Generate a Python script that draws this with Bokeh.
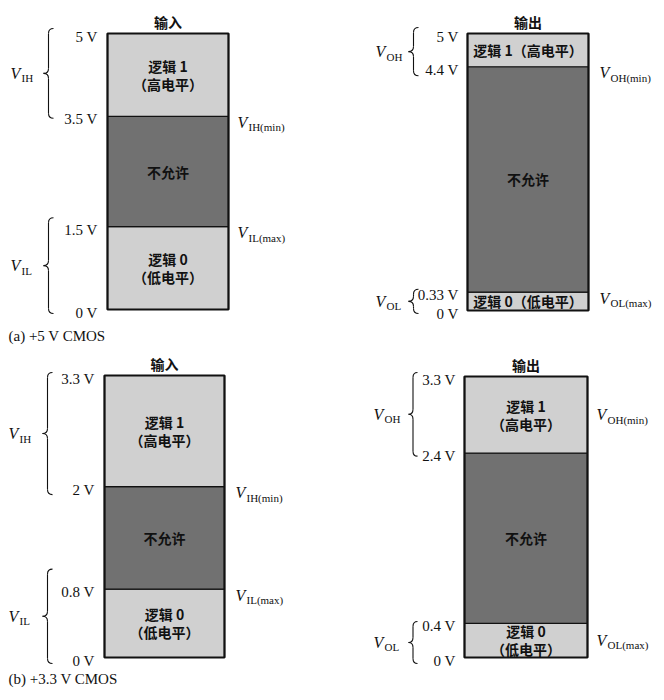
from bokeh.plotting import figure
from bokeh.models import Range1d
from bokeh.core.properties import value
from bokeh.embed import file_html
from bokeh.resources import INLINE

# ---------------- data ----------------
captions = ["(a)  +5 V CMOS", "(b)  +3.3 V CMOS"]
column_titles = ["输入", "输出"]

in5_levels = [0.0, 1.5, 3.5, 5.0]
out5_levels = [0.0, 0.33, 4.4, 5.0]
in33_levels = [0.0, 0.8, 2.0, 3.3]
out33_levels = [0.0, 0.4, 2.4, 3.3]

in5_ticks = ["0 V", "1.5 V", "3.5 V", "5 V"]
out5_ticks = ["0 V", "0.33 V", "4.4 V", "5 V"]
in33_ticks = ["0 V", "0.8 V", "2 V", "3.3 V"]
out33_ticks = ["0 V", "0.4 V", "2.4 V", "3.3 V"]

region_main = ["逻辑 0", "不允许", "逻辑 1"]
region_sub = ["（低电平）", "", "（高电平）"]
region_oneline = ["逻辑 0（低电平）", "不允许", "逻辑 1（高电平）"]

in_ranges = ["IL", "IH"]
out_ranges = ["OL", "OH"]
in_limits = ["IL(max)", "IH(min)"]
out_limits = ["OL(max)", "OH(min)"]

# ---------------- styles / layout ----------------
LIGHT = "#d0d0d0"
DARK = "#717171"
SERIF = value("Liberation Serif")
CJK = value("Noto Sans CJK SC")
INK = "#111111"
W, H = 660, 696

GEO = {
    "in5": dict(top=33, bottom=309, left=107, right=228, tick_x=97, lim_x=237,
                tip=43, end=53, lab_x=10, lim_mid=False, pads=[(9, 4), (5, 2)]),
    "out5": dict(top=33, bottom=310, left=467, right=588, tick_x=458, lim_x=599,
                 tip=408, end=418, lab_x=375, lim_mid=False, pads=[(3, 3), (6, 9)]),
    "in33": dict(top=375, bottom=657, left=104, right=224, tick_x=94, lim_x=235,
                 tip=42, end=52, lab_x=8, lim_mid=False, pads=[(20, 6), (3, 8)]),
    "out33": dict(top=376, bottom=657, left=464, right=587, tick_x=455, lim_x=596,
                  tip=408, end=417, lab_x=373, lim_mid=True, pads=[(2, 6), (4, 3)]),
}

p = figure(width=W, height=H, x_range=Range1d(0, W), y_range=Range1d(H, 0),
           output_backend="svg", toolbar_location=None, min_border=0,
           x_axis_location=None, y_axis_location=None)
p.grid.visible = False
p.outline_line_color = None
p.background_fill_color = "white"


def brace(name, k, tip, end, v_top, v_bot, pad_t, pad_b):
    r = 5 * k
    ya = v_top + pad_t * k
    yb = v_bot - pad_b * k
    yc = (ya + yb) / 2
    xm = (tip + end) / 2
    p.quadratic(x0=[end, xm, tip, xm], y0=[ya, yc + r, yc, yb + r],
                x1=[xm, tip, xm, end], y1=[ya - r, yc, yc - r, yb],
                cx=[xm, xm, xm, xm], cy=[ya, yc, yc, yb],
                line_color=INK, line_width=1.1, y_range_name=name)
    p.segment(x0=[xm, xm], y0=[ya - r, yc - r], x1=[xm, xm], y1=[yc + r, yb + r],
              line_color=INK, line_width=1.1, y_range_name=name)
    return yc


def panel(name, levels, ticks, title, ranges, limits, oneline=False):
    g = GEO[name]
    vmax = levels[-1]
    T, B = g["top"], g["bottom"]
    k = vmax / (B - T)  # volts per pixel
    p.extra_y_ranges[name] = Range1d((B - H) * k, B * k)
    L, R = g["left"], g["right"]
    lo, hi = levels[:-1], levels[1:]
    mids = [(a + b) / 2 for a, b in zip(lo, hi)]
    cx = (L + R) / 2

    # regions
    p.quad(left=L, right=R, bottom=lo, top=hi, fill_color=[LIGHT, DARK, LIGHT],
           line_color=INK, line_width=1.2, y_range_name=name)
    p.quad(left=L, right=R, bottom=levels[0], top=vmax, fill_color=None,
           line_color=INK, line_width=2.2, y_range_name=name)

    # region labels
    if oneline:
        p.text(x=cx, y=mids, text=region_oneline, text_font=CJK, text_font_size="14px",
               text_font_style="bold", text_align="center", text_baseline="middle",
               text_color=INK, y_range_name=name)
    else:
        main_y = [m + (9 * k if s else 0) for m, s in zip(mids, region_sub)]
        p.text(x=cx, y=main_y, text=region_main, text_font=CJK, text_font_size="14px",
               text_font_style="bold", text_align="center", text_baseline="middle",
               text_color=INK, y_range_name=name)
        sub_idx = [i for i, s in enumerate(region_sub) if s]
        p.text(x=cx, y=[mids[i] - 9 * k for i in sub_idx],
               text=[region_sub[i] for i in sub_idx], text_font=CJK,
               text_font_size="14px", text_font_style="bold", text_align="center",
               text_baseline="middle", text_color=INK, y_range_name=name)

    # column title
    p.text(x=[cx], y=[vmax + 12 * k], text=[title], text_font=CJK, text_font_size="14px",
           text_font_style="bold", text_align="center", text_baseline="middle",
           text_color=INK, y_range_name=name)

    # voltage tick labels
    p.text(x=g["tick_x"], y=[v - 3 * k for v in levels], text=ticks, text_font=SERIF,
           text_font_size="15px", text_align="right", text_baseline="middle",
           text_color=INK, y_range_name=name)

    # limit labels on the right
    if g["lim_mid"]:
        lim_y = [mids[0], mids[2]]
    else:
        lim_y = [levels[1] - 6 * k, levels[2] - 6 * k]
    p.text(x=g["lim_x"], y=lim_y, text=["V", "V"], text_font=SERIF,
           text_font_style="italic", text_font_size="16px", text_align="left",
           text_baseline="middle", text_color=INK, y_range_name=name)
    p.text(x=g["lim_x"] + 11, y=[v - 5 * k for v in lim_y], text=limits,
           text_font=SERIF, text_font_size="11px", text_align="left",
           text_baseline="middle", text_color=INK, y_range_name=name)

    # braces with range labels on the left
    spans = [(levels[1], levels[0]), (levels[3], levels[2])]
    centers = []
    for (vt, vb), (pt, pb) in zip(spans, g["pads"]):
        centers.append(brace(name, k, g["tip"], g["end"], vt, vb, pt, pb))
    p.text(x=g["lab_x"], y=centers, text=["V", "V"], text_font=SERIF,
           text_font_style="italic", text_font_size="16px", text_align="left",
           text_baseline="middle", text_color=INK, y_range_name=name)
    p.text(x=g["lab_x"] + 11, y=[c - 5 * k for c in centers], text=ranges,
           text_font=SERIF, text_font_size="11px", text_align="left",
           text_baseline="middle", text_color=INK, y_range_name=name)


panel("in5", in5_levels, in5_ticks, column_titles[0], in_ranges, in_limits)
panel("out5", out5_levels, out5_ticks, column_titles[1], out_ranges, out_limits, oneline=True)
panel("in33", in33_levels, in33_ticks, column_titles[0], in_ranges, in_limits)
panel("out33", out33_levels, out33_ticks, column_titles[1], out_ranges, out_limits)

# captions (page coordinates on the default range)
p.text(x=[8, 8], y=[335, 678], text=captions, text_font=SERIF, text_font_size="15px",
       text_align="left", text_baseline="middle", text_color=INK)

open("out.html", "w").write(file_html(p, INLINE))
